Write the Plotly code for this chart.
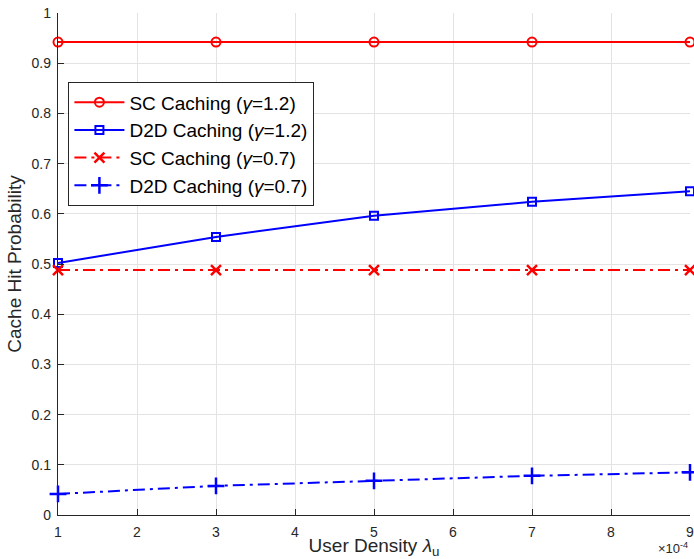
import plotly.graph_objects as go

x_vals = [1, 3, 5, 7, 9]
sc_12 = [0.942, 0.942, 0.942, 0.942, 0.942]
d2d_12 = [0.502, 0.554, 0.596, 0.624, 0.645]
sc_07 = [0.488, 0.488, 0.488, 0.488, 0.488]
d2d_07 = [0.042, 0.058, 0.068, 0.078, 0.085]

names = ["SC Caching (<i>γ</i>=1.2)", "D2D Caching (<i>γ</i>=1.2)",
         "SC Caching (<i>γ</i>=0.7)", "D2D Caching (<i>γ</i>=0.7)"]
x_ticks = [1, 2, 3, 4, 5, 6, 7, 8, 9]
y_ticks = [0, 0.1, 0.2, 0.3, 0.4, 0.5, 0.6, 0.7, 0.8, 0.9, 1]
y_ticktext = ["0", "0.1", "0.2", "0.3", "0.4", "0.5", "0.6", "0.7", "0.8", "0.9", "1"]

dashdot = "12px,5px,3px,5px"
fig = go.Figure()
fig.add_trace(go.Scatter(x=x_vals, y=sc_12, name=names[0], mode="lines+markers",
                         line=dict(color="#ff0000", width=2),
                         marker=dict(symbol="circle-open", size=9, line=dict(width=2, color="#ff0000"))))
fig.add_trace(go.Scatter(x=x_vals, y=d2d_12, name=names[1], mode="lines+markers",
                         line=dict(color="#0000ff", width=2),
                         marker=dict(symbol="square-open", size=8, line=dict(width=2, color="#0000ff"))))
fig.add_trace(go.Scatter(x=x_vals, y=sc_07, name=names[2], mode="lines+markers",
                         line=dict(color="#ff0000", width=2, dash=dashdot),
                         marker=dict(symbol="x-thin-open", size=10, line=dict(width=2.5, color="#ff0000"))))
fig.add_trace(go.Scatter(x=x_vals, y=d2d_07, name=names[3], mode="lines+markers",
                         line=dict(color="#0000ff", width=2, dash=dashdot),
                         marker=dict(symbol="cross-thin-open", size=12, line=dict(width=2.5, color="#0000ff"))))

font_family = "Liberation Sans, Arial, Helvetica, sans-serif"
fig.update_layout(
    width=694, height=559,
    margin=dict(l=58, r=0, t=13, b=44),
    paper_bgcolor="white", plot_bgcolor="white",
    font=dict(family=font_family, color="#262626", size=14),
    showlegend=True,
    legend=dict(x=0.016, y=0.8625, xanchor="left", yanchor="top",
                bgcolor="white", bordercolor="#262626", borderwidth=1.3,
                font=dict(size=19, color="black", family=font_family),
                itemwidth=50, tracegroupgap=0),
    xaxis=dict(range=[1, 9], tickvals=x_ticks, ticktext=[str(v) for v in x_ticks],
               showgrid=True, gridcolor="#e3e3e3", gridwidth=1,
               showline=True, linecolor="#262626", linewidth=1.3,
               ticks="inside", ticklen=6, tickcolor="#262626", tickwidth=1.3,
               tickfont=dict(size=14, color="#262626"), ticklabeloverflow="allow",
               ticklabelstandoff=4,
               zeroline=False, fixedrange=True,
               title=dict(text="User Density <i>λ</i><sub>u</sub>", font=dict(size=19, color="#262626"),
                          standoff=0)),
    yaxis=dict(range=[0, 1], tickvals=y_ticks, ticktext=y_ticktext,
               showgrid=True, gridcolor="#e3e3e3", gridwidth=1,
               showline=True, linecolor="#262626", linewidth=1.3,
               ticks="inside", ticklen=6, tickcolor="#262626", tickwidth=1.3,
               tickfont=dict(size=14, color="#262626"), ticklabelstandoff=3,
               zeroline=False, fixedrange=True,
               title=dict(text="Cache Hit Probability", font=dict(size=19, color="#262626"),
                          standoff=4)),
)
fig.add_annotation(text="×10<sup>-4</sup>", xref="paper", yref="paper", x=1.0, y=0,
                   xanchor="right", yanchor="top", yshift=-23, showarrow=False,
                   font=dict(size=13, color="#262626", family=font_family))
for tr in fig.data:
    tr.cliponaxis = False

fig.write_html("out.html")
